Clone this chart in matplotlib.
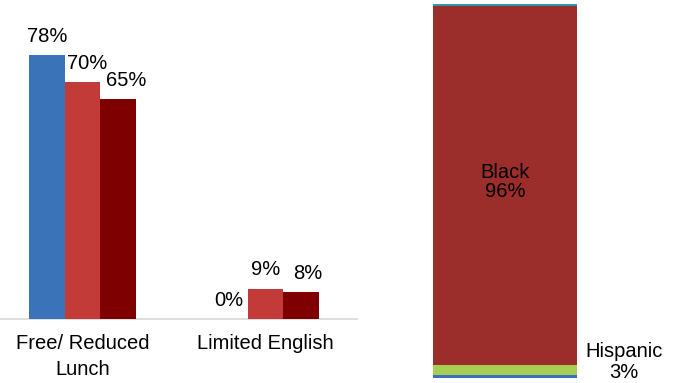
import numpy as np
import matplotlib
matplotlib.use('Agg')
import matplotlib.pyplot as plt

plt.rcParams['font.family'] = ['Liberation Sans', 'DejaVu Sans']

# left panel: grouped bars
categories = ['Free/ Reduced\nLunch', 'Limited English']
series_a = [78, 0]
series_b = [70, 9]
series_c = [65, 8]
bar_colors = ['#3B73B9', '#C33B39', '#7F0000']
# Excel nudges some labels sideways so they don't collide
label_dx = [[0, -1], [5, 0], [8, 7]]

# right panel: stacked bar (bottom to top)
stack_names = ['Other', 'Hispanic', 'Black', 'Other2']
stack_values = [0.7, 2.6, 96.2, 0.5]
stack_colors = ['#3A6FBF', '#A6CE52', '#9B2D2B', '#2E95B5']

W, H = 683, 383
fig = plt.figure(figsize=(W / 100, H / 100), dpi=100)

ax = fig.add_axes([0, 64 / H, 357 / W, 319 / H])
x = np.arange(len(categories))
w = 0.195
for i, vals in enumerate([series_a, series_b, series_c]):
    bars = ax.bar(x + (i - 1) * w, vals, width=w, color=bar_colors[i], zorder=3)
    for j, (b, v) in enumerate(zip(bars, vals)):
        ax.annotate('%d%%' % v, (b.get_x() + b.get_width() / 2, v),
                    xytext=(label_dx[i][j] * 0.72, 9.5), textcoords='offset points',
                    ha='center', va='baseline', fontsize=14.5, color='#000000')
ax.set_xlim(-0.451, 1.5)
ax.set_ylim(0, 94.4)
ax.set_xticks(x)
ax.set_xticklabels(categories, fontsize=14.5, linespacing=1.45)
ax.tick_params(axis='x', length=0, pad=11)
ax.set_yticks([])
for s in ['top', 'right', 'left']:
    ax.spines[s].set_visible(False)
ax.spines['bottom'].set_color('#d9d9d9')
ax.spines['bottom'].set_linewidth(1.2)
ax.spines['bottom'].set_zorder(2)
ax.patch.set_alpha(0)

ax2 = fig.add_axes([433 / W, 5.3 / H, 144 / W, 373.7 / H])
bottom = 0
for name, v, c in zip(stack_names, stack_values, stack_colors):
    ax2.bar(0, v, bottom=bottom, width=1, color=c)
    if name == 'Black':
        ax2.text(0, bottom + v / 2 + 1, 'Black\n%d%%' % round(v), ha='center',
                 va='center', fontsize=14.5, linespacing=1.05, color='#000000')
    if name == 'Hispanic':
        ax2.annotate('Hispanic\n%d%%' % round(v), (0.5, bottom + v / 2),
                     xytext=(34, 6), textcoords='offset points', linespacing=1.1,
                     ha='center', va='center', fontsize=14.5, annotation_clip=False)
    bottom += v
ax2.set_xlim(-0.5, 0.5)
ax2.set_ylim(0, 100)
ax2.axis('off')

fig.savefig('out.png', dpi=100)
